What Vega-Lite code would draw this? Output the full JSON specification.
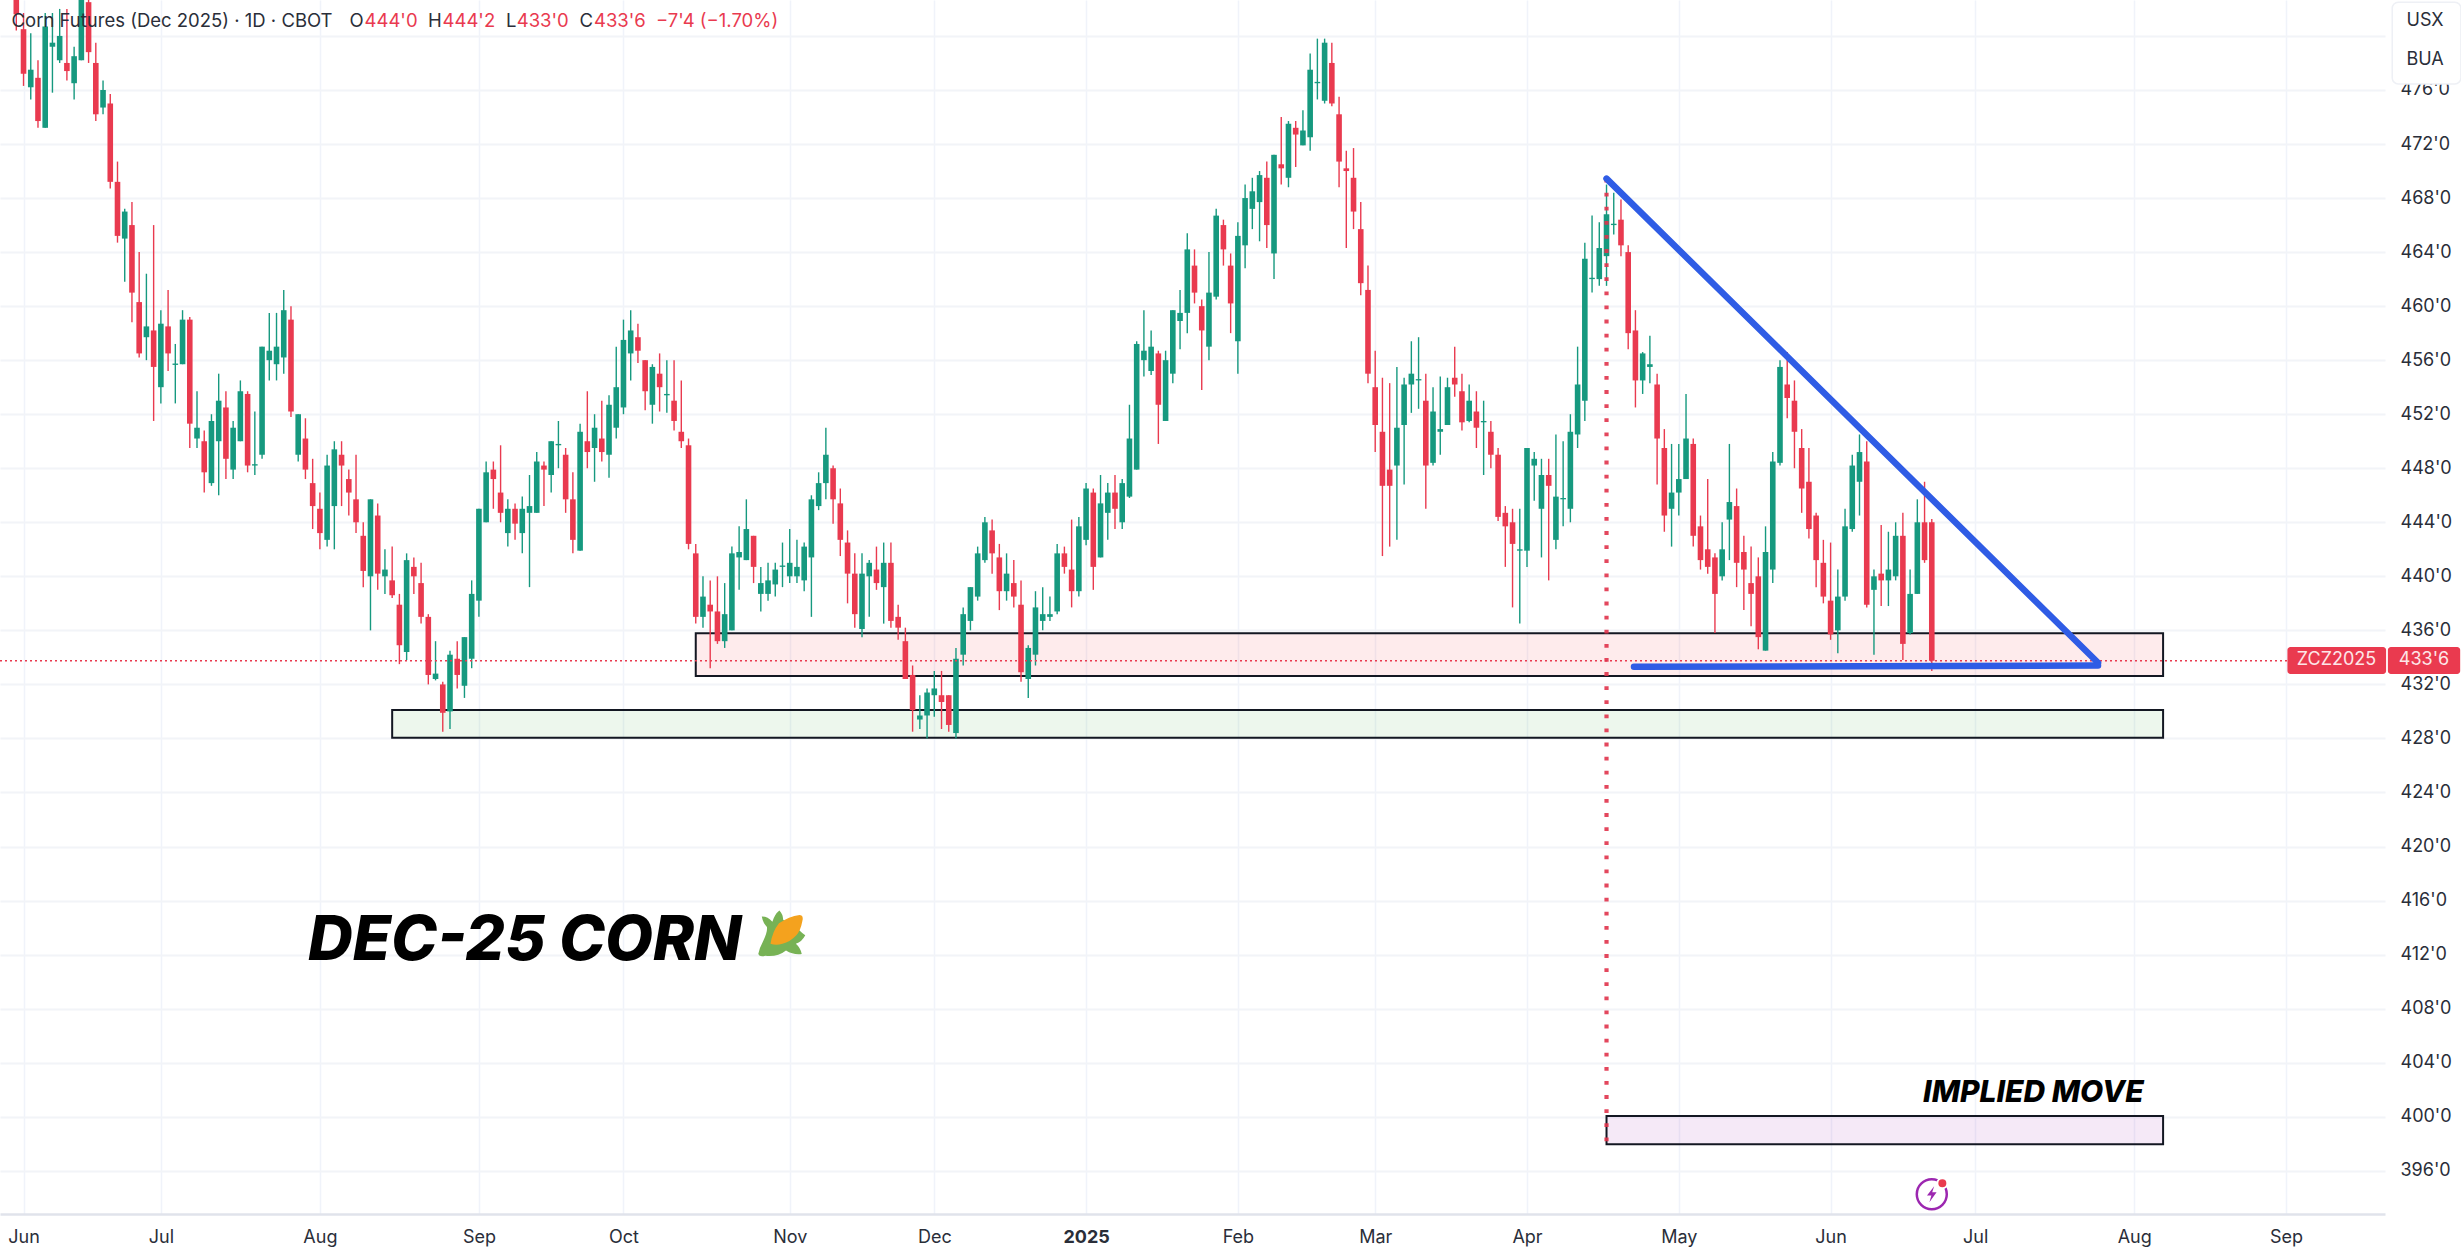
{
  "$schema": "https://vega.github.io/schema/vega-lite/v6.json",
  "width": 2385,
  "height": 1214,
  "autosize": "none",
  "padding": {"left": 0, "top": 0, "right": 76, "bottom": 39},
  "background": "#ffffff",
  "config": {
    "view": {"stroke": null},
    "text": {"font": "Inter"},
    "axis": {"labelFont": "Inter"},
    "axisY": {
      "labelFontSize": 18,
      "labelColor": "#2a2e39",
      "labelPadding": 15,
      "labelOverlap": false,
      "labelBound": false,
      "ticks": false,
      "domain": false,
      "grid": true,
      "gridColor": "#f2f4f8",
      "gridWidth": 2
    }
  },
  "datasets": {
    "candles": [
      {"i":0,"o":484,"h":485,"l":480.4,"c":481.6},
      {"i":1,"o":480.5,"h":481.7,"l":476.3,"c":477.2},
      {"i":2,"o":476.2,"h":480.2,"l":475.3,"c":477.5},
      {"i":3,"o":476.9,"h":478.2,"l":473.2,"c":473.7},
      {"i":4,"o":473.2,"h":481.7,"l":473.2,"c":480.7},
      {"i":5,"o":479.2,"h":481.7,"l":475.8,"c":479.5},
      {"i":6,"o":478.2,"h":482,"l":478,"c":480},
      {"i":7,"o":478,"h":482,"l":476.7,"c":477.4},
      {"i":8,"o":476.5,"h":479.2,"l":475.3,"c":478.5},
      {"i":9,"o":478.2,"h":485,"l":478.2,"c":484},
      {"i":10,"o":482.5,"h":482.7,"l":478,"c":478.8},
      {"i":11,"o":478,"h":479.5,"l":473.7,"c":474.2},
      {"i":12,"o":474.7,"h":476.7,"l":474.2,"c":476},
      {"i":13,"o":475,"h":475.7,"l":468.7,"c":469.2},
      {"i":14,"o":469.2,"h":470.7,"l":464.7,"c":465.2},
      {"i":15,"o":465,"h":467.2,"l":461.8,"c":467},
      {"i":16,"o":466,"h":467.7,"l":458.8,"c":461},
      {"i":17,"o":460.3,"h":464,"l":456.2,"c":456.5},
      {"i":18,"o":457.7,"h":462.4,"l":456,"c":458.5},
      {"i":19,"o":458.2,"h":466,"l":451.5,"c":455.5},
      {"i":20,"o":454,"h":459.7,"l":452.8,"c":458.7},
      {"i":21,"o":458.5,"h":461.2,"l":455.2,"c":456.5},
      {"i":22,"o":455.65,"h":457.2,"l":452.8,"c":455.75},
      {"i":23,"o":455.7,"h":459.7,"l":455.7,"c":459},
      {"i":24,"o":459,"h":459.2,"l":449.5,"c":451.3},
      {"i":25,"o":450.2,"h":453.7,"l":449.5,"c":451},
      {"i":26,"o":450,"h":450.8,"l":446.2,"c":447.7},
      {"i":27,"o":446.9,"h":452,"l":446.7,"c":451.5},
      {"i":28,"o":450,"h":455,"l":446,"c":453},
      {"i":29,"o":452.5,"h":453.7,"l":447.2,"c":448.7},
      {"i":30,"o":447.9,"h":451.5,"l":447.2,"c":451},
      {"i":31,"o":450,"h":454.5,"l":450,"c":453.7},
      {"i":32,"o":453.5,"h":453.7,"l":447.7,"c":448.2},
      {"i":33,"o":448.2,"h":452.2,"l":447.5,"c":448.3},
      {"i":34,"o":449,"h":457,"l":448.7,"c":457},
      {"i":35,"o":456,"h":459.5,"l":454.5,"c":456.7},
      {"i":36,"o":455.7,"h":459.5,"l":454.5,"c":457},
      {"i":37,"o":456.2,"h":461.2,"l":455,"c":459.7},
      {"i":38,"o":459,"h":460,"l":451.8,"c":452.2},
      {"i":39,"o":449,"h":452,"l":448.5,"c":452},
      {"i":40,"o":450.2,"h":451.7,"l":447.2,"c":447.9},
      {"i":41,"o":446.9,"h":448.7,"l":443.5,"c":445.2},
      {"i":42,"o":445,"h":446.2,"l":442,"c":443.2},
      {"i":43,"o":442.7,"h":449,"l":442.2,"c":448.2},
      {"i":44,"o":445.2,"h":450,"l":442,"c":449.4},
      {"i":45,"o":449,"h":450,"l":445.2,"c":448.2},
      {"i":46,"o":447.2,"h":447.9,"l":444.5,"c":446.2},
      {"i":47,"o":445.7,"h":449,"l":443.2,"c":444},
      {"i":48,"o":443,"h":444,"l":439.2,"c":440.4},
      {"i":49,"o":440,"h":445.7,"l":436,"c":445.7},
      {"i":50,"o":444.5,"h":445.4,"l":439,"c":440.2},
      {"i":51,"o":440,"h":442,"l":438.7,"c":440.5},
      {"i":52,"o":439.7,"h":442.2,"l":438.4,"c":438.6},
      {"i":53,"o":437.9,"h":438.7,"l":433.5,"c":434.9},
      {"i":54,"o":434.4,"h":441.7,"l":433.8,"c":441.2},
      {"i":55,"o":440.7,"h":441.4,"l":438.7,"c":440},
      {"i":56,"o":439.5,"h":441,"l":436.5,"c":437},
      {"i":57,"o":437,"h":437.2,"l":432,"c":432.7},
      {"i":58,"o":432.4,"h":435.2,"l":432.3,"c":432.8},
      {"i":59,"o":432,"h":432.2,"l":428.5,"c":429.9},
      {"i":60,"o":430,"h":434.5,"l":428.7,"c":434.2},
      {"i":61,"o":433.9,"h":435.2,"l":431.7,"c":432.7},
      {"i":62,"o":431.9,"h":435.5,"l":431,"c":435.5},
      {"i":63,"o":433.9,"h":439.7,"l":433.2,"c":438.7},
      {"i":64,"o":438.2,"h":445,"l":437,"c":445},
      {"i":65,"o":444,"h":448.5,"l":444,"c":447.7},
      {"i":66,"o":447.9,"h":448.5,"l":445,"c":447.2},
      {"i":67,"o":446.2,"h":449.7,"l":444,"c":444.7},
      {"i":68,"o":443.2,"h":445.7,"l":442.2,"c":445},
      {"i":69,"o":445,"h":445.4,"l":442.7,"c":443.9},
      {"i":70,"o":443.2,"h":445.9,"l":441.7,"c":445},
      {"i":71,"o":444.7,"h":447.5,"l":439.2,"c":445.2},
      {"i":72,"o":444.7,"h":449.2,"l":444.7,"c":448.5},
      {"i":73,"o":448.2,"h":448.5,"l":445.2,"c":447.9},
      {"i":74,"o":447.5,"h":450,"l":446.2,"c":450},
      {"i":75,"o":449.7,"h":451.5,"l":448,"c":449.8},
      {"i":76,"o":449,"h":449.5,"l":444.7,"c":445.7},
      {"i":77,"o":445.7,"h":447.7,"l":441.7,"c":442.7},
      {"i":78,"o":441.9,"h":451.3,"l":441.9,"c":450.7},
      {"i":79,"o":450,"h":453.7,"l":448,"c":449.2},
      {"i":80,"o":449.5,"h":452,"l":447,"c":451},
      {"i":81,"o":450.2,"h":453,"l":448.5,"c":449.2},
      {"i":82,"o":449,"h":453.4,"l":447.3,"c":452.7},
      {"i":83,"o":451,"h":457,"l":450.2,"c":454},
      {"i":84,"o":452.5,"h":459,"l":452,"c":457.5},
      {"i":85,"o":456.5,"h":459.7,"l":454.5,"c":458.2},
      {"i":86,"o":457.7,"h":458.7,"l":455.8,"c":456.7},
      {"i":87,"o":456,"h":456,"l":452.3,"c":453.7},
      {"i":88,"o":452.7,"h":455.7,"l":451.3,"c":455.5},
      {"i":89,"o":455,"h":456.5,"l":452.2,"c":454},
      {"i":90,"o":453.4,"h":456,"l":452.1,"c":453.5},
      {"i":91,"o":453,"h":456,"l":450.8,"c":451.5},
      {"i":92,"o":450.7,"h":454.5,"l":449.5,"c":450},
      {"i":93,"o":449.7,"h":450.2,"l":442,"c":442.4},
      {"i":94,"o":441.7,"h":442.4,"l":436.5,"c":437},
      {"i":95,"o":437,"h":440,"l":436.2,"c":438.5},
      {"i":96,"o":437.9,"h":439.7,"l":433.2,"c":437.4},
      {"i":97,"o":437.4,"h":440,"l":435,"c":435.2},
      {"i":98,"o":435.2,"h":439.5,"l":434.7,"c":437.2},
      {"i":99,"o":436,"h":442.2,"l":436,"c":441.7},
      {"i":100,"o":441.4,"h":443.7,"l":439,"c":441.8},
      {"i":101,"o":441.2,"h":445.7,"l":441.2,"c":443.5},
      {"i":102,"o":443,"h":443,"l":439.5,"c":440.7},
      {"i":103,"o":438.7,"h":440.7,"l":437.4,"c":439.5},
      {"i":104,"o":438.7,"h":441,"l":438.2,"c":439.7},
      {"i":105,"o":439.4,"h":441,"l":438.5,"c":440.5},
      {"i":106,"o":440.7,"h":442.5,"l":439.2,"c":440.8},
      {"i":107,"o":440,"h":443.5,"l":439.5,"c":441},
      {"i":108,"o":440,"h":442.7,"l":439.5,"c":440.7},
      {"i":109,"o":439.7,"h":442.5,"l":438.9,"c":442.2},
      {"i":110,"o":441.4,"h":446,"l":437,"c":445.7},
      {"i":111,"o":445.2,"h":447.7,"l":444.9,"c":446.9},
      {"i":112,"o":446.9,"h":451,"l":445.7,"c":449},
      {"i":113,"o":448,"h":448.2,"l":443.9,"c":445.7},
      {"i":114,"o":445.4,"h":446.5,"l":441.5,"c":442.7},
      {"i":115,"o":442.5,"h":443.4,"l":438,"c":440.2},
      {"i":116,"o":440.2,"h":441.7,"l":436.2,"c":437.2},
      {"i":117,"o":436.1,"h":441.7,"l":435.5,"c":440.2},
      {"i":118,"o":440,"h":441.2,"l":437,"c":441},
      {"i":119,"o":440.5,"h":442.2,"l":439,"c":439.5},
      {"i":120,"o":439.2,"h":442.5,"l":436.5,"c":441},
      {"i":121,"o":441,"h":442.5,"l":436.2,"c":436.7},
      {"i":122,"o":437,"h":437.9,"l":435.3,"c":436.2},
      {"i":123,"o":435.2,"h":436.2,"l":432.4,"c":432.4},
      {"i":124,"o":432.7,"h":433.4,"l":428.5,"c":430.1},
      {"i":125,"o":429.4,"h":431.2,"l":428.7,"c":429.7},
      {"i":126,"o":429.7,"h":431.7,"l":428,"c":431.4},
      {"i":127,"o":431.2,"h":433,"l":429.6,"c":431.7},
      {"i":128,"o":431.2,"h":433,"l":428.7,"c":430.7},
      {"i":129,"o":431.2,"h":431.2,"l":428.5,"c":429},
      {"i":130,"o":428.4,"h":434.7,"l":428,"c":433.9},
      {"i":131,"o":434.2,"h":437.7,"l":433.4,"c":437.2},
      {"i":132,"o":436.7,"h":439.2,"l":436,"c":439.2},
      {"i":133,"o":438.5,"h":442.2,"l":438.2,"c":441.7},
      {"i":134,"o":441.2,"h":444.4,"l":441,"c":444},
      {"i":135,"o":443.4,"h":444.2,"l":440.2,"c":441.7},
      {"i":136,"o":441.4,"h":442.4,"l":437.5,"c":438.9},
      {"i":137,"o":438.9,"h":441.7,"l":438.2,"c":440.2},
      {"i":138,"o":439.5,"h":441.2,"l":437.7,"c":438.5},
      {"i":139,"o":437.9,"h":439.7,"l":432.2,"c":432.9},
      {"i":140,"o":432.4,"h":434.9,"l":431,"c":434.7},
      {"i":141,"o":434.2,"h":438.9,"l":433.4,"c":437.7},
      {"i":142,"o":436.7,"h":439.2,"l":436,"c":437.2},
      {"i":143,"o":437,"h":438.5,"l":436.7,"c":437.2},
      {"i":144,"o":437.4,"h":442.4,"l":437.2,"c":441.7},
      {"i":145,"o":441.7,"h":442.2,"l":440.2,"c":440.7},
      {"i":146,"o":440.5,"h":444.2,"l":437.7,"c":438.9},
      {"i":147,"o":438.9,"h":444.4,"l":438.5,"c":443.7},
      {"i":148,"o":442.7,"h":446.9,"l":442.3,"c":446.5},
      {"i":149,"o":446.2,"h":446.5,"l":439,"c":440.7},
      {"i":150,"o":441.4,"h":447.5,"l":441.4,"c":445.4},
      {"i":151,"o":444.7,"h":446.9,"l":442.7,"c":446.2},
      {"i":152,"o":446.2,"h":447.5,"l":443.5,"c":445},
      {"i":153,"o":444,"h":447.2,"l":443.5,"c":446.9},
      {"i":154,"o":445.9,"h":452.7,"l":445.8,"c":450.2},
      {"i":155,"o":447.9,"h":457.4,"l":447.9,"c":457.2},
      {"i":156,"o":456,"h":459.7,"l":454.8,"c":456.7},
      {"i":157,"o":455.2,"h":458.2,"l":454.9,"c":457},
      {"i":158,"o":456.5,"h":456.7,"l":449.8,"c":452.7},
      {"i":159,"o":451.5,"h":456.7,"l":451.5,"c":456},
      {"i":160,"o":455,"h":459.7,"l":454.3,"c":459.7},
      {"i":161,"o":458.9,"h":461.2,"l":456.8,"c":459.5},
      {"i":162,"o":459.5,"h":465.4,"l":458,"c":464.2},
      {"i":163,"o":463,"h":464.2,"l":460.2,"c":461},
      {"i":164,"o":460,"h":460.5,"l":453.8,"c":458.2},
      {"i":165,"o":457,"h":464,"l":456,"c":461},
      {"i":166,"o":460.7,"h":467.2,"l":460.5,"c":466.7},
      {"i":167,"o":466,"h":466.4,"l":463,"c":464.2},
      {"i":168,"o":463,"h":463.9,"l":458,"c":460.2},
      {"i":169,"o":457.4,"h":466.2,"l":455,"c":465.2},
      {"i":170,"o":464.5,"h":469,"l":462.8,"c":468},
      {"i":171,"o":467.2,"h":469.5,"l":465.7,"c":468.5},
      {"i":172,"o":467.7,"h":470,"l":464.8,"c":469.7},
      {"i":173,"o":469.5,"h":470.7,"l":464.3,"c":466},
      {"i":174,"o":463.9,"h":471.2,"l":462,"c":471.2},
      {"i":175,"o":470.5,"h":474,"l":469,"c":470.2},
      {"i":176,"o":469.5,"h":473.7,"l":468.8,"c":473.5},
      {"i":177,"o":473.2,"h":473.7,"l":470.3,"c":472.7},
      {"i":178,"o":471.9,"h":474.5,"l":471.9,"c":473},
      {"i":179,"o":472.5,"h":478.7,"l":471.5,"c":477.5},
      {"i":180,"o":476.5,"h":479.8,"l":475.3,"c":476.6},
      {"i":181,"o":475.2,"h":479.8,"l":475,"c":479.5},
      {"i":182,"o":478,"h":479.5,"l":474.8,"c":475},
      {"i":183,"o":474.2,"h":475.5,"l":468.8,"c":470.7},
      {"i":184,"o":470.2,"h":471.5,"l":464.3,"c":470},
      {"i":185,"o":469.5,"h":471.7,"l":465.7,"c":467},
      {"i":186,"o":465.7,"h":467.7,"l":460.8,"c":461.7},
      {"i":187,"o":461.2,"h":463,"l":454.3,"c":455},
      {"i":188,"o":454,"h":456.7,"l":449.2,"c":451.2},
      {"i":189,"o":450.7,"h":454.7,"l":441.5,"c":446.7},
      {"i":190,"o":447.9,"h":454.3,"l":442.2,"c":446.7},
      {"i":191,"o":448.2,"h":455.5,"l":442.7,"c":451},
      {"i":192,"o":451.2,"h":454.7,"l":446.8,"c":454.2},
      {"i":193,"o":454.2,"h":457.4,"l":452.1,"c":455},
      {"i":194,"o":454.5,"h":457.7,"l":452.4,"c":454.6},
      {"i":195,"o":453,"h":455,"l":445,"c":448.2},
      {"i":196,"o":448.4,"h":454,"l":448.2,"c":452.2},
      {"i":197,"o":450.7,"h":454.8,"l":449,"c":450.9},
      {"i":198,"o":451.2,"h":454.7,"l":451.2,"c":454},
      {"i":199,"o":454.7,"h":457,"l":453.3,"c":454.2},
      {"i":200,"o":453.7,"h":455,"l":450.8,"c":451.4},
      {"i":201,"o":451.5,"h":454.2,"l":451.4,"c":453},
      {"i":202,"o":452.2,"h":453.7,"l":449.5,"c":451},
      {"i":203,"o":451.4,"h":453,"l":447.5,"c":451.5},
      {"i":204,"o":450.7,"h":451.5,"l":448,"c":449},
      {"i":205,"o":449,"h":449.5,"l":444.1,"c":444.4},
      {"i":206,"o":444.7,"h":445.2,"l":440.7,"c":443.7},
      {"i":207,"o":444,"h":445,"l":437.7,"c":442.4},
      {"i":208,"o":441.9,"h":445,"l":436.5,"c":442},
      {"i":209,"o":441.9,"h":449.5,"l":440.7,"c":449.5},
      {"i":210,"o":448.2,"h":449.2,"l":445.6,"c":448.7},
      {"i":211,"o":445,"h":448.7,"l":441.4,"c":447.5},
      {"i":212,"o":447.5,"h":448.7,"l":439.7,"c":446.7},
      {"i":213,"o":442.7,"h":450.5,"l":442,"c":445.9},
      {"i":214,"o":445.7,"h":450,"l":443.7,"c":445.8},
      {"i":215,"o":445,"h":452,"l":444,"c":450.7},
      {"i":216,"o":450.5,"h":457,"l":449.5,"c":454.2},
      {"i":217,"o":453,"h":464.7,"l":451.5,"c":463.5},
      {"i":218,"o":462,"h":466.7,"l":461,"c":462.1},
      {"i":219,"o":462,"h":466.2,"l":461.5,"c":464.3},
      {"i":220,"o":463.7,"h":469,"l":461.5,"c":466.8},
      {"i":221,"o":466,"h":468.4,"l":465.3,"c":466.1},
      {"i":222,"o":466.4,"h":467.9,"l":463.7,"c":464.5},
      {"i":223,"o":464,"h":464.5,"l":456.8,"c":458},
      {"i":224,"o":458.2,"h":459.7,"l":452.5,"c":454.5},
      {"i":225,"o":454.5,"h":456.6,"l":453.5,"c":456.5},
      {"i":226,"o":455.5,"h":457.8,"l":454.3,"c":455.7},
      {"i":227,"o":454.2,"h":455,"l":446.8,"c":450.2},
      {"i":228,"o":449.5,"h":450.9,"l":443.3,"c":444.5},
      {"i":229,"o":445,"h":449.8,"l":442.2,"c":446.2},
      {"i":230,"o":446.2,"h":449.8,"l":444.5,"c":447.2},
      {"i":231,"o":447.2,"h":453.5,"l":447.2,"c":450.2},
      {"i":232,"o":449.8,"h":450.2,"l":442.2,"c":443},
      {"i":233,"o":443.7,"h":444.5,"l":440.5,"c":441.2},
      {"i":234,"o":442,"h":447.2,"l":440.2,"c":440.7},
      {"i":235,"o":441.4,"h":441.7,"l":435.8,"c":438.7},
      {"i":236,"o":440,"h":444,"l":439.7,"c":442},
      {"i":237,"o":444.2,"h":449.8,"l":441.2,"c":445.5},
      {"i":238,"o":445.2,"h":446.5,"l":439.2,"c":441},
      {"i":239,"o":441.8,"h":443,"l":437.5,"c":440.5},
      {"i":240,"o":439.5,"h":442.2,"l":436.3,"c":438.7},
      {"i":241,"o":440,"h":441.4,"l":434.6,"c":435.5},
      {"i":242,"o":434.5,"h":443.7,"l":434.5,"c":441.8},
      {"i":243,"o":440.5,"h":449.2,"l":439.5,"c":448.5},
      {"i":244,"o":448.4,"h":456,"l":448.2,"c":455.5},
      {"i":245,"o":454.2,"h":456.6,"l":451.7,"c":453.2},
      {"i":246,"o":453,"h":454.5,"l":448,"c":450.7},
      {"i":247,"o":449.5,"h":450.9,"l":444.7,"c":446.5},
      {"i":248,"o":447,"h":449.5,"l":442.8,"c":443.5},
      {"i":249,"o":444.5,"h":444.7,"l":439.2,"c":441.2},
      {"i":250,"o":441,"h":442.7,"l":438,"c":438.5},
      {"i":251,"o":438.2,"h":442.5,"l":435.3,"c":435.7},
      {"i":252,"o":436,"h":440.5,"l":434.3,"c":438.5},
      {"i":253,"o":438.5,"h":445,"l":438.2,"c":443.7},
      {"i":254,"o":443.5,"h":449,"l":443.3,"c":448.2},
      {"i":255,"o":447,"h":450.5,"l":444.5,"c":449.2},
      {"i":256,"o":448.5,"h":450,"l":437.7,"c":437.9},
      {"i":257,"o":439,"h":440.5,"l":434.2,"c":440},
      {"i":258,"o":440.2,"h":443.8,"l":437.8,"c":439.7},
      {"i":259,"o":439.7,"h":443.3,"l":437.8,"c":440.5},
      {"i":260,"o":440,"h":444,"l":439.7,"c":443},
      {"i":261,"o":443,"h":444.7,"l":433.8,"c":435},
      {"i":262,"o":435.8,"h":440.5,"l":435.7,"c":438.7},
      {"i":263,"o":438.7,"h":445.7,"l":438.7,"c":444},
      {"i":264,"o":444,"h":447,"l":441,"c":441.2},
      {"i":265,"o":444,"h":444.25,"l":433,"c":433.75}
    ]
  },
  "encoding": {
    "x": {
      "field": "i",
      "type": "quantitative",
      "scale": {"domain": [-2.255, 327.7], "nice": false, "zero": false, "padding": 0},
      "axis": {
        "title": null,
        "values": [1, 20, 42, 64, 84, 107, 127, 148, 169, 188, 209, 230, 251, 271, 293, 314],
        "labelExpr": "{'1':'Jun','20':'Jul','42':'Aug','64':'Sep','84':'Oct','107':'Nov','127':'Dec','148':'2025','169':'Feb','188':'Mar','209':'Apr','230':'May','251':'Jun','271':'Jul','293':'Aug','314':'Sep'}[datum.value]",
        "labelFontSize": 18,
        "labelColor": "#2a2e39",
        "labelFontWeight": {"condition": {"test": "datum.value == 148", "value": 700}, "value": 400},
        "labelPadding": 14,
        "labelOverlap": false,
        "labelBound": false,
        "labelFlush": false,
        "ticks": false,
        "domainColor": "#e0e3eb",
        "domainWidth": 2.5,
        "grid": true,
        "gridColor": "#f0f3fa",
        "gridWidth": 1.5
      }
    },
    "y": {
      "field": "p",
      "type": "quantitative",
      "scale": {"domain": [392.8, 482.66], "nice": false, "zero": false},
      "axis": {
        "title": null,
        "orient": "right",
        "values": [396, 400, 404, 408, 412, 416, 420, 424, 428, 432, 436, 440, 444, 448, 452, 456, 460, 464, 468, 472, 476, 480],
        "labelExpr": "datum.value == 480 ? '' : format(datum.value, 'd') + \"'0\""
      }
    }
  },
  "layer": [
    {
      "data": {"values": [
        {"zone": "support", "i": 94, "i2": 297, "p": 435.78, "p2": 432.63},
        {"zone": "low", "i": 52, "i2": 297, "p": 430.1, "p2": 428.05},
        {"zone": "implied", "i": 220, "i2": 297, "p": 400.05, "p2": 397.96}
      ]},
      "mark": {"type": "rect", "stroke": "#131722", "strokeWidth": 2, "fillOpacity": 0.1},
      "encoding": {
        "x2": {"field": "i2"},
        "y2": {"field": "p2"},
        "fill": {
          "field": "zone",
          "type": "nominal",
          "legend": null,
          "scale": {"domain": ["support", "low", "implied"], "range": ["#f23645", "#4caf50", "#9c27b0"]}
        }
      }
    },
    {
      "data": {"name": "candles"},
      "mark": {"type": "rule", "strokeWidth": 1.4, "clip": true},
      "encoding": {
        "y": {
          "field": "h",
          "type": "quantitative",
          "scale": {"domain": [392.8, 482.66], "nice": false, "zero": false},
          "axis": {
            "title": null,
            "orient": "right",
            "values": [396, 400, 404, 408, 412, 416, 420, 424, 428, 432, 436, 440, 444, 448, 452, 456, 460, 464, 468, 472, 476, 480],
            "labelExpr": "datum.value == 480 ? '' : format(datum.value, 'd') + \"'0\""
          }
        },
        "y2": {"field": "l"},
        "color": {"condition": {"test": "datum.c >= datum.o", "value": "#16997f"}, "value": "#e93a4f"}
      }
    },
    {
      "data": {"name": "candles"},
      "mark": {"type": "bar", "orient": "vertical", "size": 5.6, "clip": true},
      "encoding": {
        "y": {
          "field": "o",
          "type": "quantitative",
          "scale": {"domain": [392.8, 482.66], "nice": false, "zero": false},
          "axis": {
            "title": null,
            "orient": "right",
            "values": [396, 400, 404, 408, 412, 416, 420, 424, 428, 432, 436, 440, 444, 448, 452, 456, 460, 464, 468, 472, 476, 480],
            "labelExpr": "datum.value == 480 ? '' : format(datum.value, 'd') + \"'0\""
          }
        },
        "y2": {"field": "c"},
        "color": {"condition": {"test": "datum.c >= datum.o", "value": "#16997f"}, "value": "#e93a4f"}
      }
    },
    {
      "data": {"values": [{"i": -2.255, "i2": 314.2, "p": 433.75}]},
      "mark": {"type": "rule", "color": "#e93a4f", "strokeWidth": 1.3, "strokeDash": [2, 3]},
      "encoding": {"x2": {"field": "i2"}}
    },
    {
      "data": {"values": [{"i": 220, "p": 469.44, "p2": 398}]},
      "mark": {"type": "rule", "color": "#e0334b", "strokeWidth": 4.2, "strokeDash": [3.8, 10.3], "opacity": 0.9},
      "encoding": {"y2": {"field": "p2"}}
    },
    {
      "data": {"values": [
        {"seg": "falling", "i": 220, "p": 469.44},
        {"seg": "falling", "i": 288, "p": 433.6},
        {"seg": "base", "i": 223.8, "p": 433.3},
        {"seg": "base", "i": 288, "p": 433.4}
      ]},
      "mark": {"type": "line", "color": "#2f5ce5", "strokeWidth": 6.5, "strokeCap": "round"},
      "encoding": {"detail": {"field": "seg"}}
    },
    {
      "data": {"values": [
        {"t": "Corn Futures (Dec 2025) · 1D · CBOT", "k": "dark", "i": -0.66, "p": 480.68},
        {"t": "O", "k": "dark", "i": 46.08, "p": 480.68},
        {"t": "444'0", "k": "red", "i": 48.17, "p": 480.68},
        {"t": "H", "k": "dark", "i": 56.96, "p": 480.68},
        {"t": "444'2", "k": "red", "i": 58.96, "p": 480.68},
        {"t": "L", "k": "dark", "i": 67.75, "p": 480.68},
        {"t": "433'0", "k": "red", "i": 69.23, "p": 480.68},
        {"t": "C", "k": "dark", "i": 77.92, "p": 480.68},
        {"t": "433'6", "k": "red", "i": 79.92, "p": 480.68},
        {"t": "−7'4 (−1.70%)", "k": "red", "i": 88.5, "p": 480.68}
      ]},
      "mark": {"type": "text", "align": "left", "baseline": "alphabetic", "fontSize": 18.5},
      "encoding": {
        "text": {"field": "t"},
        "color": {"field": "k", "type": "nominal", "legend": null, "scale": {"domain": ["dark", "red"], "range": ["#2a2e39", "#e93a4f"]}}
      }
    },
    {
      "data": {"values": [{"t": "DEC-25 CORN", "i": 40.36, "p": 411.6}]},
      "mark": {"type": "text", "align": "left", "baseline": "alphabetic", "fontSize": 62, "fontWeight": 800, "fontStyle": "italic", "color": "#000000"},
      "encoding": {"text": {"field": "t"}}
    },
    {
      "data": {"values": [{"t": "IMPLIED MOVE", "i": 263.8, "p": 401.1}]},
      "mark": {"type": "text", "align": "left", "baseline": "alphabetic", "fontSize": 30, "fontWeight": 800, "fontStyle": "italic", "color": "#000000"},
      "encoding": {"text": {"field": "t"}}
    },
    {
      "data": {"values": [{"i": 105.9, "p": 413.53}]},
      "mark": {"type": "point", "filled": true, "opacity": 1, "size": 2209, "color": "#77b255",
        "shape": "M-.85-.74Q-.6-.75-.4-.52Q-.3-.85-.1-1Q.05-.85.06-.6L.7-.2Q.85-.05 1 .06Q.85.35.6.42Q.8.6.85.85Q.5.9.18.7Q-.2 1-.7.93Q-.95 1-1 .85Q-.95.6-.78.28Q-.6-.1-.63-.3Q-.8-.45-.85-.74Z"}
    },
    {
      "data": {"values": [{"i": 105.9, "p": 413.53}]},
      "mark": {"type": "point", "filled": true, "opacity": 1, "size": 2209, "color": "#f4a21e",
        "shape": "M-.48.42Q-.4-.1-.12-.45Q.3-.75.76-.81Q.95-.8.87-.52Q.8-.15.62.06Q.35.35.03.42Q-.25.5-.48.42Z"}
    },
    {
      "data": {"values": [{"i": 265, "p": 394.26}]},
      "mark": {"type": "point", "filled": false, "opacity": 1, "size": 900, "shape": "circle", "color": "#9c27b0", "strokeWidth": 2.5}
    },
    {
      "data": {"values": [{"i": 265, "p": 394.26}]},
      "mark": {"type": "point", "filled": true, "opacity": 1, "size": 256, "color": "#9c27b0",
        "shape": "M.3-1L-.6.15L-.05.15L-.3 1L.6-.25L.05-.25Z"}
    },
    {
      "data": {"values": [{"i": 266.46, "p": 395.07}]},
      "mark": {"type": "point", "filled": true, "opacity": 1, "size": 100, "shape": "circle", "color": "#e93a4f", "stroke": "#ffffff", "strokeWidth": 2}
    },
    {
      "data": {"values": [
        {"i": 314.2, "i2": 327.85, "p": 434.77, "p2": 432.77},
        {"i": 328.1, "i2": 338.1, "p": 434.77, "p2": 432.77}
      ]},
      "mark": {"type": "rect", "color": "#ea3a4f", "cornerRadius": 3},
      "encoding": {"x2": {"field": "i2"}, "y2": {"field": "p2"}}
    },
    {
      "data": {"values": [
        {"t": "ZCZ2025", "i": 321, "p": 433.77},
        {"t": "433'6", "i": 333.1, "p": 433.77}
      ]},
      "mark": {"type": "text", "align": "center", "baseline": "middle", "fontSize": 18, "color": "#fde6e8"},
      "encoding": {"text": {"field": "t"}}
    },
    {
      "data": {"values": [{"i": 328.7, "i2": 338.2, "p": 482.5, "p2": 476.45}]},
      "mark": {"type": "rect", "color": "#ffffff", "stroke": "#eef0f5", "strokeWidth": 1.5, "cornerRadius": 6},
      "encoding": {"x2": {"field": "i2"}, "y2": {"field": "p2"}}
    },
    {
      "data": {"values": [
        {"t": "USX", "i": 333.25, "p": 481.1},
        {"t": "BUA", "i": 333.25, "p": 478.2}
      ]},
      "mark": {"type": "text", "align": "center", "baseline": "middle", "fontSize": 18, "color": "#2a2e39"},
      "encoding": {"text": {"field": "t"}}
    }
  ]
}
